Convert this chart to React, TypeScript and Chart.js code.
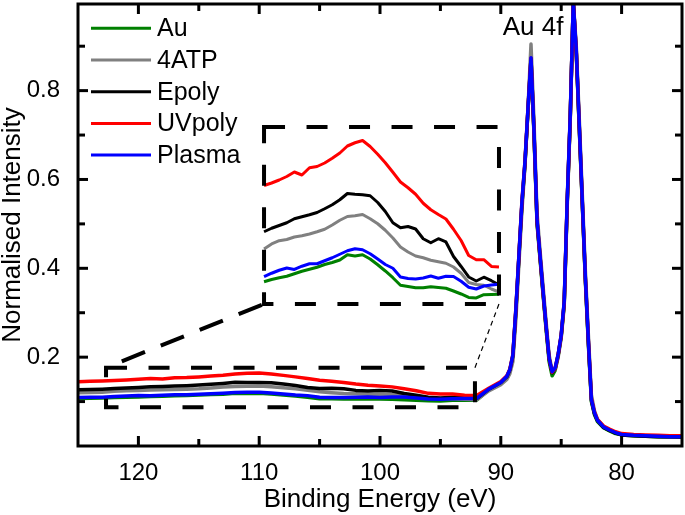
import React, { useEffect, useRef } from 'react';
import { Chart, registerables } from 'chart.js';

Chart.register(...registerables);

const FONT = "'Liberation Sans', Arial, Helvetica, sans-serif";

// ---------------- data ----------------
const seriesNames = ['Au', '4ATP', 'Epoly', 'UVpoly', 'Plasma'];
const seriesColors = ['#008000', '#808080', '#000000', '#ff0000', '#0000ff'];

// background region (1 eV steps), 125 -> 92 eV
const energyLow = [125, 124, 123, 122, 121, 120, 119, 118, 117, 116, 115, 114, 113, 112, 111, 110, 109, 108,
  107, 106, 105, 104, 103, 102, 101, 100, 99, 98, 97, 96, 95, 94, 93, 92];
const auLow = [0.107, 0.1075, 0.1080, 0.1089, 0.1096, 0.1102, 0.1112, 0.1122, 0.1130, 0.1138, 0.1149, 0.1157,
  0.1167, 0.1188, 0.1183, 0.1188, 0.1171, 0.1148, 0.1123, 0.1096, 0.1066, 0.1061, 0.1056, 0.1056, 0.1060,
  0.1057, 0.1054, 0.1043, 0.1031, 0.1017, 0.1015, 0.1028, 0.1029, 0.1030];
const atpLow = [0.120, 0.1205, 0.1211, 0.1231, 0.1244, 0.1249, 0.1259, 0.1264, 0.1271, 0.1280, 0.1290, 0.1307,
  0.1326, 0.1341, 0.1344, 0.1349, 0.1332, 0.1312, 0.1286, 0.1255, 0.1219, 0.1199, 0.1183, 0.1176, 0.1166,
  0.1160, 0.1154, 0.1139, 0.1114, 0.1077, 0.1069, 0.1066, 0.1051, 0.1039];
const epolyLow = [0.1265, 0.127, 0.1280, 0.1294, 0.1305, 0.1316, 0.1332, 0.1340, 0.1348, 0.1357, 0.1372, 0.1388,
  0.1408, 0.1433, 0.1430, 0.1428, 0.1424, 0.1397, 0.1361, 0.1316, 0.1296, 0.1301, 0.1291, 0.1252, 0.1236,
  0.1252, 0.1239, 0.1181, 0.1141, 0.1099, 0.1083, 0.1098, 0.1084, 0.1068];
const uvLow = [0.1445, 0.1455, 0.1465, 0.1475, 0.1487, 0.1501, 0.1519, 0.1507, 0.1536, 0.1541, 0.1555, 0.1574,
  0.1595, 0.1623, 0.1636, 0.1645, 0.1621, 0.1590, 0.1556, 0.1518, 0.1479, 0.1456, 0.1430, 0.1394, 0.1368,
  0.1349, 0.1331, 0.1290, 0.1245, 0.1185, 0.1168, 0.1168, 0.1141, 0.1139];
const plasmaLow = [0.1090, 0.1095, 0.1100, 0.1114, 0.1126, 0.1135, 0.1129, 0.1142, 0.1152, 0.1152, 0.1164, 0.1176,
  0.1190, 0.1204, 0.1212, 0.1208, 0.1192, 0.1171, 0.1149, 0.1134, 0.1099, 0.1093, 0.1091, 0.1095, 0.1103,
  0.1094, 0.1102, 0.1101, 0.1082, 0.1058, 0.1051, 0.1063, 0.1067, 0.1070];

// Au 4f region, 91 -> 75 eV
const energyPeak = [91, 90, 89.5, 89.25, 89, 88.75, 88.5, 88.25, 88, 87.75, 87.5, 87.25, 87, 86.75, 86.5, 86.25,
  86, 85.75, 85.5, 85.25, 85, 84.75, 84.5, 84.25, 84, 83.75, 83.5, 83.25, 83, 82.75, 82.5, 82.25, 82, 81.5, 81,
  80.5, 80, 79, 78, 77, 76, 75];
const auPeak = [0.126, 0.141, 0.155, 0.170, 0.202, 0.305, 0.425, 0.545, 0.635, 0.755, 0.870, 0.700, 0.500, 0.420,
  0.340, 0.262, 0.190, 0.158, 0.170, 0.203, 0.246, 0.320, 0.548, 0.74, 1.0, 0.882, 0.712, 0.542, 0.372, 0.228,
  0.100, 0.071, 0.055, 0.041, 0.034, 0.028, 0.025, 0.023, 0.022, 0.021, 0.020, 0.020];
const atpPeak = [0.124, 0.138, 0.150, 0.163, 0.19, 0.285, 0.41, 0.53, 0.63, 0.76, 0.905, 0.73, 0.525, 0.44, 0.36,
  0.28, 0.205, 0.168, 0.172, 0.2, 0.243, 0.315, 0.54, 0.735, 1.0, 0.9, 0.735, 0.565, 0.395, 0.25, 0.115, 0.08,
  0.06, 0.044, 0.036, 0.030, 0.026, 0.024, 0.023, 0.022, 0.021, 0.021];
const epolyPeak = [0.128, 0.143, 0.156, 0.171, 0.203, 0.305, 0.425, 0.545, 0.635, 0.755, 0.872, 0.705, 0.505,
  0.425, 0.345, 0.268, 0.196, 0.165, 0.174, 0.205, 0.248, 0.322, 0.55, 0.74, 1.0, 0.885, 0.715, 0.545, 0.376,
  0.233, 0.103, 0.073, 0.057, 0.042, 0.035, 0.029, 0.025, 0.023, 0.022, 0.021, 0.021, 0.020];
const uvPeak = [0.130, 0.145, 0.158, 0.173, 0.206, 0.31, 0.43, 0.55, 0.64, 0.76, 0.873, 0.706, 0.507, 0.426,
  0.346, 0.269, 0.197, 0.166, 0.175, 0.206, 0.249, 0.324, 0.553, 0.742, 1.0, 0.888, 0.718, 0.548, 0.378, 0.236,
  0.106, 0.077, 0.060, 0.045, 0.038, 0.032, 0.028, 0.026, 0.025, 0.024, 0.023, 0.023];
const plasmaPeak = [0.128, 0.143, 0.157, 0.172, 0.205, 0.31, 0.43, 0.55, 0.64, 0.76, 0.874, 0.708, 0.509, 0.428,
  0.348, 0.27, 0.198, 0.167, 0.176, 0.207, 0.25, 0.326, 0.556, 0.745, 1.0, 0.89, 0.72, 0.55, 0.38, 0.237, 0.105,
  0.075, 0.058, 0.043, 0.036, 0.030, 0.026, 0.024, 0.023, 0.022, 0.021, 0.021];

const lowSets = [auLow, atpLow, epolyLow, uvLow, plasmaLow];
const peakSets = [auPeak, atpPeak, epolyPeak, uvPeak, plasmaPeak];

// axes
const xRange = [75, 125];
const yRange = [0, 0.995];
const xTickValues = [120, 110, 100, 90, 80];
const yTickValues = [0.2, 0.4, 0.6, 0.8];
const xTitle = 'Binding Energy (eV)';
const yTitle = 'Normalised Intensity';
const peakLabel = 'Au 4f';
const peakLabelAt = [87.33, 0.942];

// zoom annotation (main-axis data coordinates)
const zoomBoxX = [92.14, 122.68];
const zoomBoxY = [0.0871, 0.1763];
const insetBoxX = [90.15, 109.6];
const insetBoxY = [0.3197, 0.7181];
// data window shown inside inset
const insetWinX = [92, 123];
const insetWinY = [0.0991, 0.1699];

// ---------------- helpers ----------------
const toPoints = (low: number[], peak: number[]) => [
  ...energyLow.map((e, i) => ({ x: e, y: low[i] })),
  ...energyPeak.map((e, i) => ({ x: e, y: peak[i] })),
];

// choose min/max for an auxiliary axis so that window [lo,hi] lands on the main-axis span [boxLo, boxHi]
const windowScale = (win: number[], box: number[], main: number[]) => {
  const span = main[1] - main[0];
  const fLo = (box[0] - main[0]) / span;
  const fHi = (box[1] - main[0]) / span;
  const range = (win[1] - win[0]) / (fHi - fLo);
  const min = win[0] - fLo * range;
  return { min, max: min + range };
};

const xi = windowScale(insetWinX, insetBoxX, xRange);
const yi = windowScale(insetWinY, insetBoxY, yRange);

const overlayPlugin = {
  id: 'overlay',
  afterDatasetsDraw(chart: any) {
    const { ctx, chartArea: a, scales } = chart;
    const xs = scales.x;
    const ys = scales.y;
    const X = (v: number) => xs.getPixelForValue(v);
    const Y = (v: number) => ys.getPixelForValue(v);
    const line = (x1: number, y1: number, x2: number, y2: number) => {
      ctx.beginPath();
      ctx.moveTo(x1, y1);
      ctx.lineTo(x2, y2);
      ctx.stroke();
    };
    ctx.save();
    ctx.strokeStyle = '#000';
    ctx.lineCap = 'butt';

    const box = (bx: number[], by: number[]) => {
      const l = X(bx[1]);
      const r = X(bx[0]);
      const t = Y(by[1]);
      const b = Y(by[0]);
      ctx.beginPath();
      ctx.moveTo(l, t);
      ctx.lineTo(r, t);
      ctx.lineTo(r, b);
      ctx.lineTo(l, b);
      ctx.closePath();
      ctx.stroke();
      return { l, r, t, b };
    };
    ctx.lineWidth = 4;
    ctx.setLineDash([21, 21.5]);
    ctx.lineDashOffset = 0;
    const z = box(zoomBoxX, zoomBoxY);
    const ins = box(insetBoxX, insetBoxY);

    ctx.setLineDash([25, 17]);
    ctx.lineDashOffset = 25;
    line(z.l, z.t, ins.l, ins.b);

    ctx.lineWidth = 1.2;
    ctx.setLineDash([5, 4]);
    ctx.lineDashOffset = 0;
    line(z.r, z.t, ins.r, ins.b);

    // frame
    ctx.setLineDash([]);
    ctx.lineWidth = 3;
    ctx.strokeRect(a.left, a.top, a.right - a.left, a.bottom - a.top);

    // inward tick marks on all four sides
    const eps = 1e-9;
    const xMaj = xs.ticks.map((t: any) => t.value).sort((p: number, q: number) => p - q);
    const yMaj = ys.ticks.map((t: any) => t.value).sort((p: number, q: number) => p - q);
    const drawX = (v: number, len: number) => {
      const p = X(v);
      line(p, a.bottom, p, a.bottom - len);
      line(p, a.top, p, a.top + len);
    };
    const drawY = (v: number, len: number) => {
      const p = Y(v);
      line(a.left, p, a.left + len, p);
      line(a.right, p, a.right - len, p);
    };
    xMaj.forEach((v: number) => { if (v > xs.min + eps && v < xs.max - eps) drawX(v, 10); });
    yMaj.forEach((v: number) => { if (v > ys.min + eps && v < ys.max - eps) drawY(v, 10); });
    const sx = xMaj[1] - xMaj[0];
    for (let v = xMaj[0] - sx / 2; v < xs.max; v += sx) if (v > xs.min + eps && v < xs.max - eps) drawX(v, 7);
    const sy = yMaj[1] - yMaj[0];
    for (let v = yMaj[0] - sy / 2; v < ys.max; v += sy) if (v > ys.min + eps && v < ys.max - eps) drawY(v, 7);

    // legend
    ctx.font = `25px ${FONT}`;
    ctx.textBaseline = 'middle';
    ctx.textAlign = 'left';
    ctx.fillStyle = '#000';
    seriesNames.forEach((name, i) => {
      const yy = a.top + 24.3 + i * 31.7;
      ctx.strokeStyle = seriesColors[i];
      ctx.lineWidth = 3;
      line(a.left + 13, yy, a.left + 73, yy);
      ctx.fillText(name, a.left + 79, yy + 1);
    });

    // peak label
    ctx.font = `26px ${FONT}`;
    ctx.textAlign = 'center';
    ctx.fillText(peakLabel, X(peakLabelAt[0]), Y(peakLabelAt[1]));
    ctx.restore();
  },
};

export default function App() {
  const ref = useRef<HTMLCanvasElement>(null);
  useEffect(() => {
    Chart.defaults.font.family = FONT;
    Chart.defaults.color = '#000';

    const mainSets = seriesNames.map((name, i) => ({
      label: name,
      data: toPoints(lowSets[i], peakSets[i]),
      borderColor: seriesColors[i],
      backgroundColor: seriesColors[i],
      borderWidth: 3.5,
      borderJoinStyle: 'round' as const,
      pointRadius: 0,
      tension: 0,
      fill: false,
      order: 10 + (4 - i),
      xAxisID: 'x',
      yAxisID: 'y',
    }));
    const insetSets = seriesNames.map((name, i) => ({
      label: name + ' (inset)',
      data: energyLow
        .map((e, k) => ({ x: e, y: lowSets[i][k] }))
        .filter((p) => p.x >= insetWinX[0] && p.x <= insetWinX[1]),
      borderColor: seriesColors[i],
      backgroundColor: seriesColors[i],
      borderWidth: 3,
      borderJoinStyle: 'round' as const,
      pointRadius: 0,
      tension: 0,
      fill: false,
      order: 4 - i,
      xAxisID: 'xi',
      yAxisID: 'yi',
    }));

    const chart = new Chart(ref.current as HTMLCanvasElement, {
      type: 'line',
      data: { datasets: [...mainSets, ...insetSets] as any },
      options: {
        animation: false,
        responsive: false,
        devicePixelRatio: 1,
        events: [],
        layout: { padding: { top: 4, right: 3, left: 0, bottom: 0 } },
        plugins: { legend: { display: false }, tooltip: { enabled: false } },
        scales: {
          x: {
            type: 'linear',
            position: 'bottom',
            min: xRange[0],
            max: xRange[1],
            reverse: true,
            afterBuildTicks: (s: any) => { s.ticks = xTickValues.map((v) => ({ value: v })); },
            afterFit: (s: any) => { s.height = 69; s.paddingLeft = 0; s.paddingRight = 0; },
            grid: { display: false },
            border: { display: false },
            ticks: {
              padding: 5,
              color: '#000',
              maxRotation: 0,
              autoSkip: false,
              font: { size: 24, family: FONT },
              callback: (v: any) => String(v),
            },
            title: {
              display: true,
              text: xTitle,
              color: '#000',
              font: { size: 26, family: FONT, lineHeight: 1 },
              padding: { top: 0, bottom: 2 },
            },
          },
          y: {
            type: 'linear',
            position: 'left',
            min: yRange[0],
            max: yRange[1],
            afterBuildTicks: (s: any) => { s.ticks = yTickValues.map((v) => ({ value: v })); },
            afterFit: (s: any) => { s.width = 78; s.paddingTop = 0; s.paddingBottom = 0; },
            grid: { display: false },
            border: { display: false },
            ticks: {
              padding: 10,
              color: '#000',
              autoSkip: false,
              font: { size: 24, family: FONT },
              callback: (v: any) => Number(v).toFixed(1),
            },
            title: {
              display: true,
              text: yTitle,
              color: '#000',
              font: { size: 26, family: FONT, lineHeight: 1 },
              padding: { top: 0, bottom: 0 },
            },
          },
          xi: { type: 'linear', display: false, reverse: true, min: xi.min, max: xi.max },
          yi: { type: 'linear', display: false, min: yi.min, max: yi.max },
        },
      },
      plugins: [overlayPlugin],
    } as any);
    return () => chart.destroy();
  }, []);

  return (
    <div style={{ position: 'fixed', left: 0, top: 0, width: 685, height: 515, background: '#fff' }}>
      <canvas ref={ref} width={685} height={515} style={{ display: 'block' }} />
    </div>
  );
}
